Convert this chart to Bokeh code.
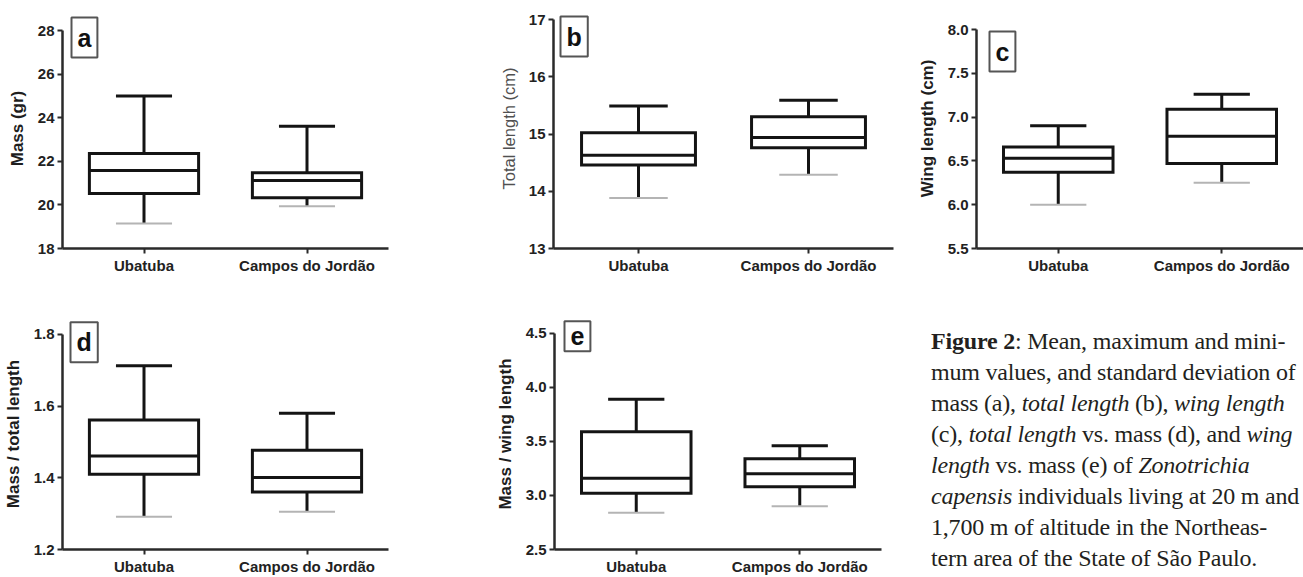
from bokeh.plotting import figure
from bokeh.layouts import row, column
from bokeh.models import ColumnDataSource, Range1d, FixedTicker, NumeralTickFormatter, Label, Div
from bokeh.transform import dodge
from bokeh.embed import file_html
from bokeh.resources import INLINE

# Sampling sites (20 m and 1,700 m of altitude)
sites = ["Ubatuba", "Campos do Jordão"]

# Box summaries per site: lower whisker, Q1, median, Q3, upper whisker
mass_low = [19.15, 19.94]
mass_q1 = [20.52, 20.33]
mass_med = [21.58, 21.12]
mass_q3 = [22.36, 21.47]
mass_high = [25.0, 23.61]

total_low = [13.88, 14.29]
total_q1 = [14.46, 14.76]
total_med = [14.63, 14.94]
total_q3 = [15.02, 15.30]
total_high = [15.49, 15.59]

wing_low = [6.00, 6.25]
wing_q1 = [6.37, 6.47]
wing_med = [6.53, 6.78]
wing_q3 = [6.66, 7.09]
wing_high = [6.90, 7.26]

mass_total_low = [1.291, 1.305]
mass_total_q1 = [1.410, 1.360]
mass_total_med = [1.461, 1.401]
mass_total_q3 = [1.561, 1.477]
mass_total_high = [1.712, 1.580]

mass_wing_low = [2.84, 2.90]
mass_wing_q1 = [3.02, 3.08]
mass_wing_med = [3.16, 3.20]
mass_wing_q3 = [3.59, 3.34]
mass_wing_high = [3.89, 3.46]

# Axis ticks
mass_ticks = [18, 20, 22, 24, 26, 28]
total_ticks = [13, 14, 15, 16, 17]
wing_ticks = [5.5, 6.0, 6.5, 7.0, 7.5, 8.0]
mass_total_ticks = [1.2, 1.4, 1.6, 1.8]
mass_wing_ticks = [2.5, 3.0, 3.5, 4.0, 4.5]

SANS = "Liberation Sans"
INK = "#141414"
AXIS = "#2a2a2a"
BOX_W = 0.67
CAP_HALF = 0.172


def panel(letter, low, q1, med, q3, high, ticks, fmt, title, title_bold,
          width, height, left, right, top, bottom, head, tag_dx, tag_dy):
    """One box-plot panel.  The frame starts `head` px above the top tick so
    that the panel tag can sit above the end of the y axis."""
    span = ticks[-1] - ticks[0]
    axis_px = height - top - bottom - head
    y_hi = ticks[-1] + span * head / axis_px
    p = figure(width=width, height=height,
               x_range=Range1d(-0.5, len(sites) - 0.5),
               y_range=Range1d(ticks[0], y_hi),
               output_backend="svg", toolbar_location=None,
               min_border_left=left, min_border_right=right,
               min_border_top=top, min_border_bottom=bottom)
    p.outline_line_color = None
    p.grid.visible = False
    p.background_fill_color = "white"
    p.border_fill_color = "white"

    src = ColumnDataSource(dict(x=list(range(len(sites))), low=low, q1=q1,
                                med=med, q3=q3, high=high))
    # whisker stem, hidden inside the box by the box fill
    p.segment(x0="x", x1="x", y0="low", y1="high", source=src,
              line_color=INK, line_width=3)
    # caps
    p.segment(x0=dodge("x", -CAP_HALF), x1=dodge("x", CAP_HALF), y0="high", y1="high",
              source=src, line_color=INK, line_width=3)
    p.segment(x0=dodge("x", -CAP_HALF), x1=dodge("x", CAP_HALF), y0="low", y1="low",
              source=src, line_color="#b4b4b4", line_width=2)
    # box and median
    p.vbar(x="x", width=BOX_W, bottom="q1", top="q3", source=src,
           fill_color="white", line_color=INK, line_width=3, line_join="miter")
    p.segment(x0=dodge("x", -BOX_W / 2), x1=dodge("x", BOX_W / 2), y0="med", y1="med",
              source=src, line_color=INK, line_width=3)

    xa = p.xaxis[0]
    xa.ticker = FixedTicker(ticks=list(range(len(sites))))
    xa.major_label_overrides = {i: s for i, s in enumerate(sites)}
    ya = p.yaxis[0]
    ya.ticker = FixedTicker(ticks=ticks)
    ya.formatter = NumeralTickFormatter(format=fmt)
    ya.bounds = (ticks[0], ticks[-1])
    ya.axis_label = title
    ya.axis_label_text_font = SANS
    ya.axis_label_text_font_size = "17px" if title_bold else "16.5px"
    ya.axis_label_text_font_style = "bold" if title_bold else "normal"
    ya.axis_label_text_color = "#1e1e1e" if title_bold else "#505050"
    ya.axis_label_standoff = 8
    for ax in (xa, ya):
        ax.axis_line_color = AXIS
        ax.axis_line_width = 2.5
        ax.major_tick_line_color = AXIS
        ax.major_tick_line_width = 2
        ax.major_tick_out = 5
        ax.major_tick_in = 0
        ax.minor_tick_out = 0
        ax.minor_tick_in = 0
        ax.major_label_text_font = SANS
        ax.major_label_text_font_style = "bold"
        ax.major_label_text_font_size = "15px"
        ax.major_label_text_color = "#222222"
        ax.major_label_standoff = 3

    tag = Label(x=-0.5, y=ticks[-1], x_offset=tag_dx, y_offset=tag_dy, text=letter,
                text_font=SANS, text_font_style="bold", text_font_size="25px",
                text_color="#111111", text_align="left", text_baseline="top",
                border_line_color="#555555", border_line_width=2,
                background_fill_color="white", padding=6)
    p.add_layout(tag)
    return p


# top row: frames share top 8 px / bottom 248 px
pa = panel("a", mass_low, mass_q1, mass_med, mass_q3, mass_high, mass_ticks, "0",
           "Mass (gr)", True, 410, 290, 62, 22, 8, 42, 22, 9, 13)
pb = panel("b", total_low, total_q1, total_med, total_q3, total_high, total_ticks, "0",
           "Total length (cm)", False, 490, 290, 143, 7, 8, 42, 11, 7, 3)
pc = panel("c", wing_low, wing_q1, wing_med, wing_q3, wing_high, wing_ticks, "0.0",
           "Wing length (cm)", True, 403, 290, 76, 0, 8, 42, 21, 13, -2)
# bottom row: frames share top 318 px / bottom 552 px
pd = panel("d", mass_total_low, mass_total_q1, mass_total_med, mass_total_q3, mass_total_high,
           mass_total_ticks, "0.0", "Mass / total length", True, 410, 287, 62, 22, 28, 25, 16, 8, 12)
pe = panel("e", mass_wing_low, mass_wing_q1, mass_wing_med, mass_wing_q3, mass_wing_high,
           mass_wing_ticks, "0.0", "Mass / wing length", True, 500, 287, 144, 29, 28, 25, 15, 10, 12)

caption_html = (
    '<div style="padding:36px 0 0 21px; white-space:nowrap; '
    'font-family:\'Liberation Serif\', serif; font-size:24px; letter-spacing:-0.2px; '
    'line-height:31px; color:#231f20;">'
    '<b>Figure 2</b>: Mean, maximum and mini-<br>'
    'mum values, and standard deviation of<br>'
    'mass (a), <i>total length</i> (b), <i>wing length</i><br>'
    '(c), <i>total length</i> vs. mass (d), and <i>wing</i><br>'
    '<i>length</i> vs. mass (e) of <i>Zonotrichia</i><br>'
    '<i>capensis</i> individuals living at 20 m and<br>'
    '1,700 m of altitude in the Northeas-<br>'
    'tern area of the State of São Paulo.'
    '</div>'
)
caption = Div(text=caption_html, width=393, height=287, margin=0)

layout = column(row(pa, pb, pc, spacing=0), row(pd, pe, caption, spacing=0), spacing=0)

open("out.html", "w").write(file_html(layout, INLINE))
